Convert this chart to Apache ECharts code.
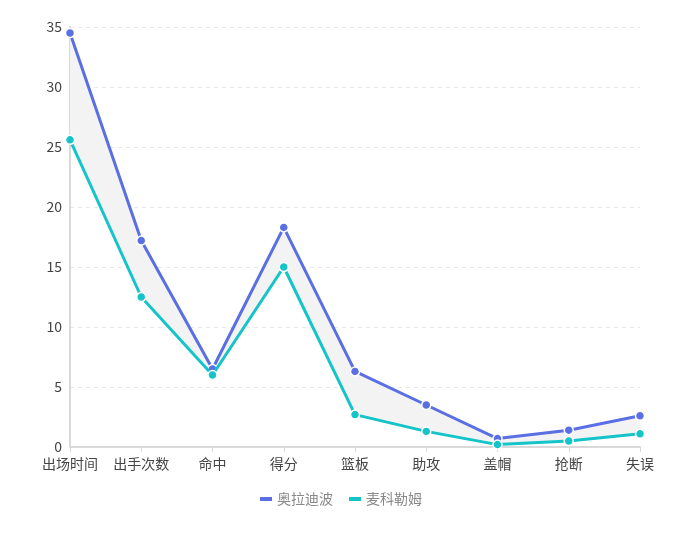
<!DOCTYPE html>
<html>
<head>
<meta charset="utf-8">
<script src="https://cdn.jsdelivr.net/npm/echarts@6/dist/echarts.min.js"></script>
<style>
  html, body { margin: 0; padding: 0; background: #fff; }
  #main { width: 682px; height: 535px; }
</style>
</head>
<body>
<div id="main"></div>
<script>
// 数据
var categories = ['出场时间', '出手次数', '命中', '得分', '篮板', '助攻', '盖帽', '抢断', '失误'];
var oladipo = [34.5, 17.2, 6.5, 18.3, 6.3, 3.5, 0.7, 1.4, 2.6];
var mccollum = [25.6, 12.5, 6.0, 15.0, 2.7, 1.3, 0.2, 0.5, 1.1];
var yTicks = [0, 5, 10, 15, 20, 25, 30, 35];

// 两条线之间的差值，用于填充灰色区域
var gap = oladipo.map(function (v, i) { return +(v - mccollum[i]).toFixed(2); });

var blue = '#5a6fe3';
var teal = '#14c4c8';
var font = '"Noto Sans CJK SC", "Noto Sans", sans-serif';

var myChart = echarts.init(document.getElementById('main'));
myChart.setOption({
    animation: false,
    textStyle: { fontFamily: font },
    grid: { left: 70, right: 42, top: 27, bottom: 88 },
    legend: {
        bottom: 24,
        left: 'center',
        itemWidth: 12,
        itemHeight: 4,
        itemGap: 16,
        icon: 'rect',
        data: [
            { name: '奥拉迪波', itemStyle: { color: blue, opacity: 1, borderWidth: 0 } },
            { name: '麦科勒姆', itemStyle: { color: teal, opacity: 1, borderWidth: 0 } }
        ],
        textStyle: { color: '#888', fontSize: 14, fontFamily: font }
    },
    xAxis: {
        type: 'category',
        boundaryGap: false,
        data: categories,
        axisLine: { lineStyle: { color: '#d9d9d9', width: 2 } },
        axisTick: { alignWithLabel: true, lineStyle: { color: '#d9d9d9' }, length: 5 },
        axisLabel: { color: '#444', fontSize: 14, margin: 10, interval: 0, fontFamily: font }
    },
    yAxis: {
        type: 'value',
        min: yTicks[0],
        max: yTicks[yTicks.length - 1],
        interval: 5,
        axisLine: { show: true, lineStyle: { color: '#d9d9d9', width: 2 } },
        axisTick: { show: false },
        axisLabel: { color: '#444', fontSize: 14, margin: 8, fontFamily: font },
        splitLine: { lineStyle: { color: '#e8e8e8', type: [4, 4] } }
    },
    series: [
        {
            name: 'base',
            type: 'line',
            stack: 'band',
            data: mccollum,
            symbol: 'none',
            lineStyle: { opacity: 0 },
            silent: true,
            z: 1
        },
        {
            name: 'gap',
            type: 'line',
            stack: 'band',
            data: gap,
            symbol: 'none',
            lineStyle: { opacity: 0 },
            areaStyle: { color: '#f3f3f3', opacity: 1 },
            silent: true,
            z: 1
        },
        {
            name: '奥拉迪波',
            type: 'line',
            data: oladipo,
            color: blue,
            symbol: 'circle',
            symbolSize: 9,
            showAllSymbol: true,
            lineStyle: { width: 3, color: blue },
            itemStyle: { color: blue, borderColor: '#fff', borderWidth: 1.5 },
            z: 3
        },
        {
            name: '麦科勒姆',
            type: 'line',
            data: mccollum,
            color: teal,
            symbol: 'circle',
            symbolSize: 9,
            showAllSymbol: true,
            lineStyle: { width: 3, color: teal },
            itemStyle: { color: teal, borderColor: '#fff', borderWidth: 1.5 },
            z: 4
        }
    ]
});
</script>
</body>
</html>
